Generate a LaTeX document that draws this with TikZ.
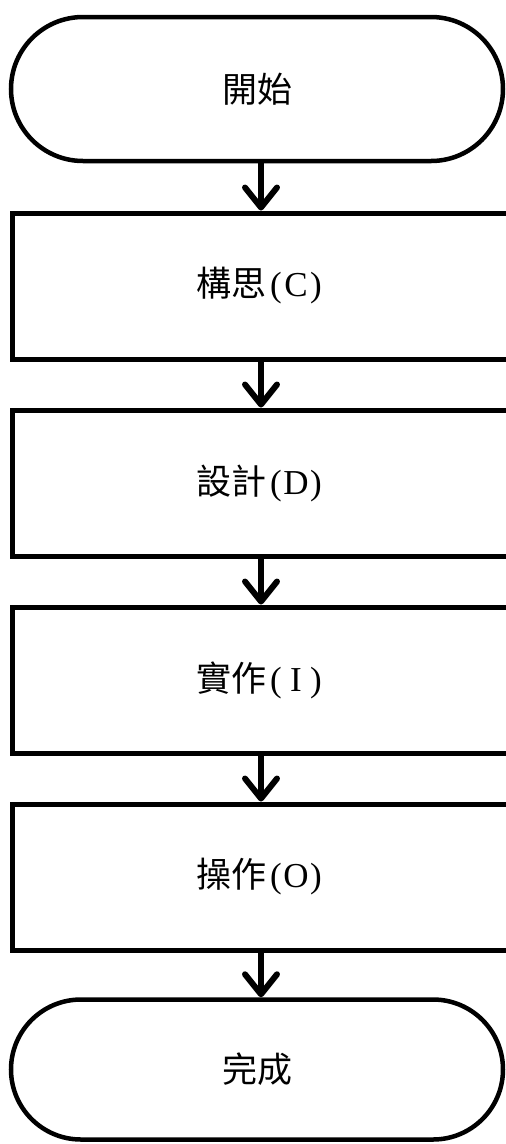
\documentclass[tikz,border=0pt]{standalone}
\usepackage{fontspec}
\setmainfont{Liberation Serif}
\newfontfamily\cjk{Noto Sans CJK TC}
\usetikzlibrary{arrows.meta,shapes.misc}
\newcommand\hw[1]{\makebox[20pt]{#1}}
\begin{document}
\begin{tikzpicture}[x=1pt,y=-1pt,
  term/.style={rounded rectangle, draw, line width=4.5pt, minimum width=492pt, inner sep=0pt,
    font=\cjk\fontsize{35}{40}\selectfont},
  stepbox/.style={rectangle, draw, line width=5pt, minimum width=498pt, minimum height=146pt, inner sep=0pt,
    font=\fontsize{35}{40}\selectfont},
  arr/.style={line width=6pt, -{Straight Barb[length=20pt,width=32pt,line width=6pt,round]}}]
\useasboundingbox (0,0) rectangle (506,1144);
\node[term, minimum height=144pt] (start) at (257,89) {開始};
\node[stepbox] (c) at (261,286) {{\cjk 構思}\hw{(}\hw{C}\hw{)}};
\node[stepbox] (d) at (261,483) {{\cjk 設計}\hw{(}\hw{D}\hw{)}};
\node[stepbox] (i) at (261,680) {{\cjk 實作}\hw{(}\hw{I}\hw{)}};
\node[stepbox] (o) at (261,877) {{\cjk 操作}\hw{(}\hw{O}\hw{)}};
\node[term, minimum height=140pt] (end) at (257,1069.5) {完成};
\draw[arr] (start.south -| c.north) -- (c.north);
\draw[arr] (c) -- (d);
\draw[arr] (d) -- (i);
\draw[arr] (i) -- (o);
\draw[arr] (o.south) -- (o.south |- end.north);
\end{tikzpicture}
\end{document}
